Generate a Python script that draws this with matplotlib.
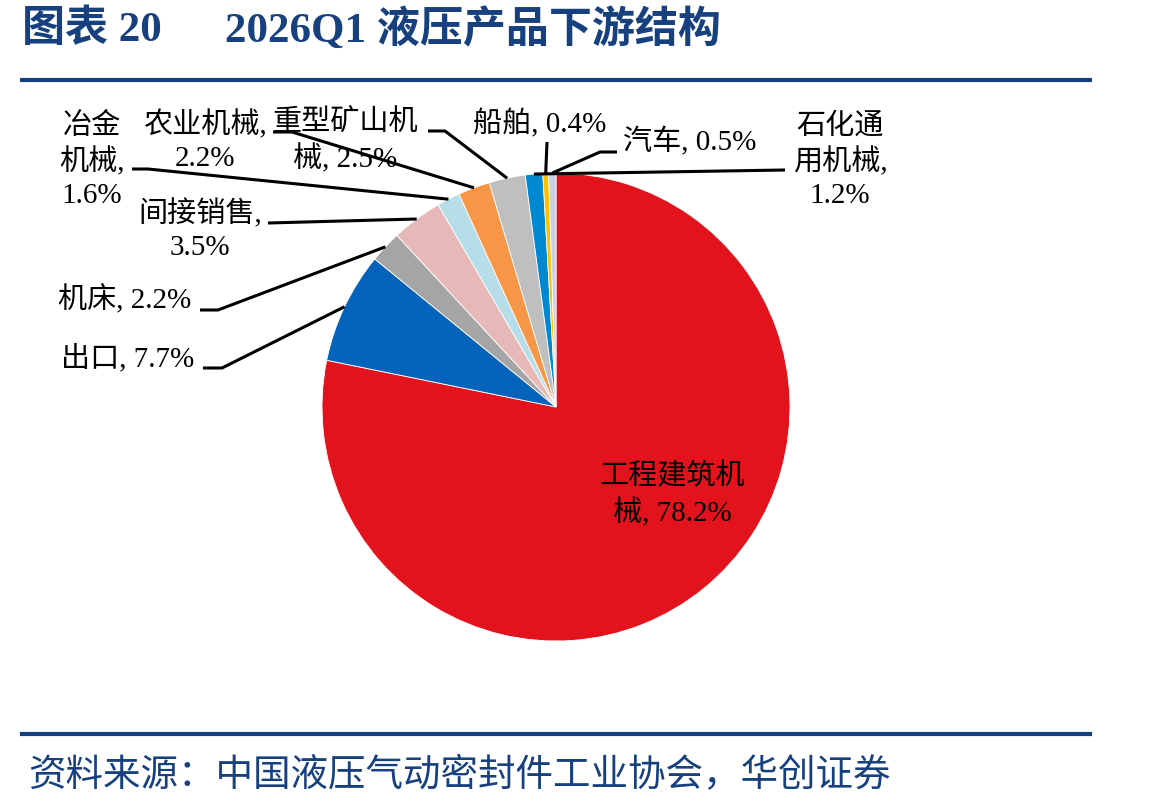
import numpy as np
import matplotlib
matplotlib.use("Agg")
import matplotlib.pyplot as plt
from matplotlib.lines import Line2D

plt.rcParams['font.family'] = ['Liberation Serif', 'Noto Sans CJK SC', 'DejaVu Sans']

# ---- data ----
categories = ['工程建筑机械', '出口', '机床', '间接销售', '冶金机械', '农业机械',
              '重型矿山机械', '石化通用机械', '船舶', '汽车']
shares = [78.2, 7.7, 2.2, 3.5, 1.6, 2.2, 2.5, 1.2, 0.4, 0.5]
label_texts = ['工程建筑机\n械, 78.2%', '出口, 7.7%', '机床, 2.2%', '间接销售,\n3.5%',
               '冶金\n机械,\n1.6%', '农业机械,\n2.2%', '重型矿山机\n械, 2.5%',
               '石化通\n用机械,\n1.2%', '船舶, 0.4%', '汽车, 0.5%']
colors = ['#E3131E', '#0563BB', '#A5A5A5', '#E6B9B8', '#B7DDE8', '#F79646',
          '#BFBFBF', '#0088D1', '#FFC000', '#C9D0E4']

title_left = '图表 20'
title_right = '2026Q1 液压产品下游结构'
source = '资料来源：中国液压气动密封件工业协会，华创证券'

W, H = 1149, 810
fig = plt.figure(figsize=(W / 100, H / 100), dpi=100)

# pie geometry (pixels)
cx, cy, R = 556, 407, 234
ax = fig.add_axes([(cx - R) / W, (H - cy - R) / H, 2 * R / W, 2 * R / H])

wedges, _ = ax.pie(shares, colors=colors, startangle=90, counterclock=False,
                   radius=1.0, wedgeprops=dict(edgecolor='white', linewidth=0.6))
ax.set_xlim(-1, 1)
ax.set_ylim(-1, 1)
ax.set_aspect('equal')
ax.axis('off')


def p2d(px, py):
    return ((px - cx) / R, (cy - py) / R)


# label layout in pixels: text center, leader start, optional elbow
layout = {
    '工程建筑机械': dict(pos=(672, 495), lead=None),
    '出口': dict(pos=(128, 358), lead=[(203, 368), (222, 368)]),
    '机床': dict(pos=(125, 300), lead=[(200, 310), (218, 310)]),
    '间接销售': dict(pos=(200, 230), lead=[(268, 223)]),
    '冶金机械': dict(pos=(92, 161), lead=[(132, 169), (148, 169)]),
    '农业机械': dict(pos=(205, 141), lead=[(273, 132), (292, 132)]),
    '重型矿山机械': dict(pos=(345, 141), lead=[(428, 131), (445, 131)]),
    '石化通用机械': dict(pos=(840, 161), lead=[(785, 170)]),
    '船舶': dict(pos=(540, 124), lead=[(547, 142)]),
    '汽车': dict(pos=(690, 142), lead=[(617, 152), (600, 152)]),
}

fs = 21
for w, cat, txt in zip(wedges, categories, label_texts):
    lay = layout[cat]
    tx, ty = p2d(*lay['pos'])
    ax.text(tx, ty, txt, ha='center', va='center', fontsize=fs, color='black',
            linespacing=1.32, clip_on=False)
    if lay['lead'] is not None:
        mid = np.deg2rad((w.theta1 + w.theta2) / 2)
        pts = [p2d(*p) for p in lay['lead']] + [(np.cos(mid), np.sin(mid))]
        xs, ys = zip(*pts)
        ax.plot(xs, ys, color='black', lw=2.2, clip_on=False, solid_capstyle='butt')

# title, rules, source
navy = '#17407F'
fig.text(22 / W, 1 - 30 / H, title_left, fontsize=31, fontweight='bold', color=navy,
         ha='left', va='center')
fig.text(225 / W, 1 - 30 / H, title_right, fontsize=31, fontweight='bold', color=navy,
         ha='left', va='center')
fig.add_artist(Line2D([22 / W, 1090 / W], [1 - 80 / H, 1 - 80 / H], color=navy, lw=3))
fig.add_artist(Line2D([22 / W, 1090 / W], [1 - 734 / H, 1 - 734 / H], color=navy, lw=3))
fig.text(28 / W, 1 - 775 / H, source, fontsize=27, color=navy, ha='left', va='center',
         style='italic')

fig.savefig('out.png', dpi=100)
